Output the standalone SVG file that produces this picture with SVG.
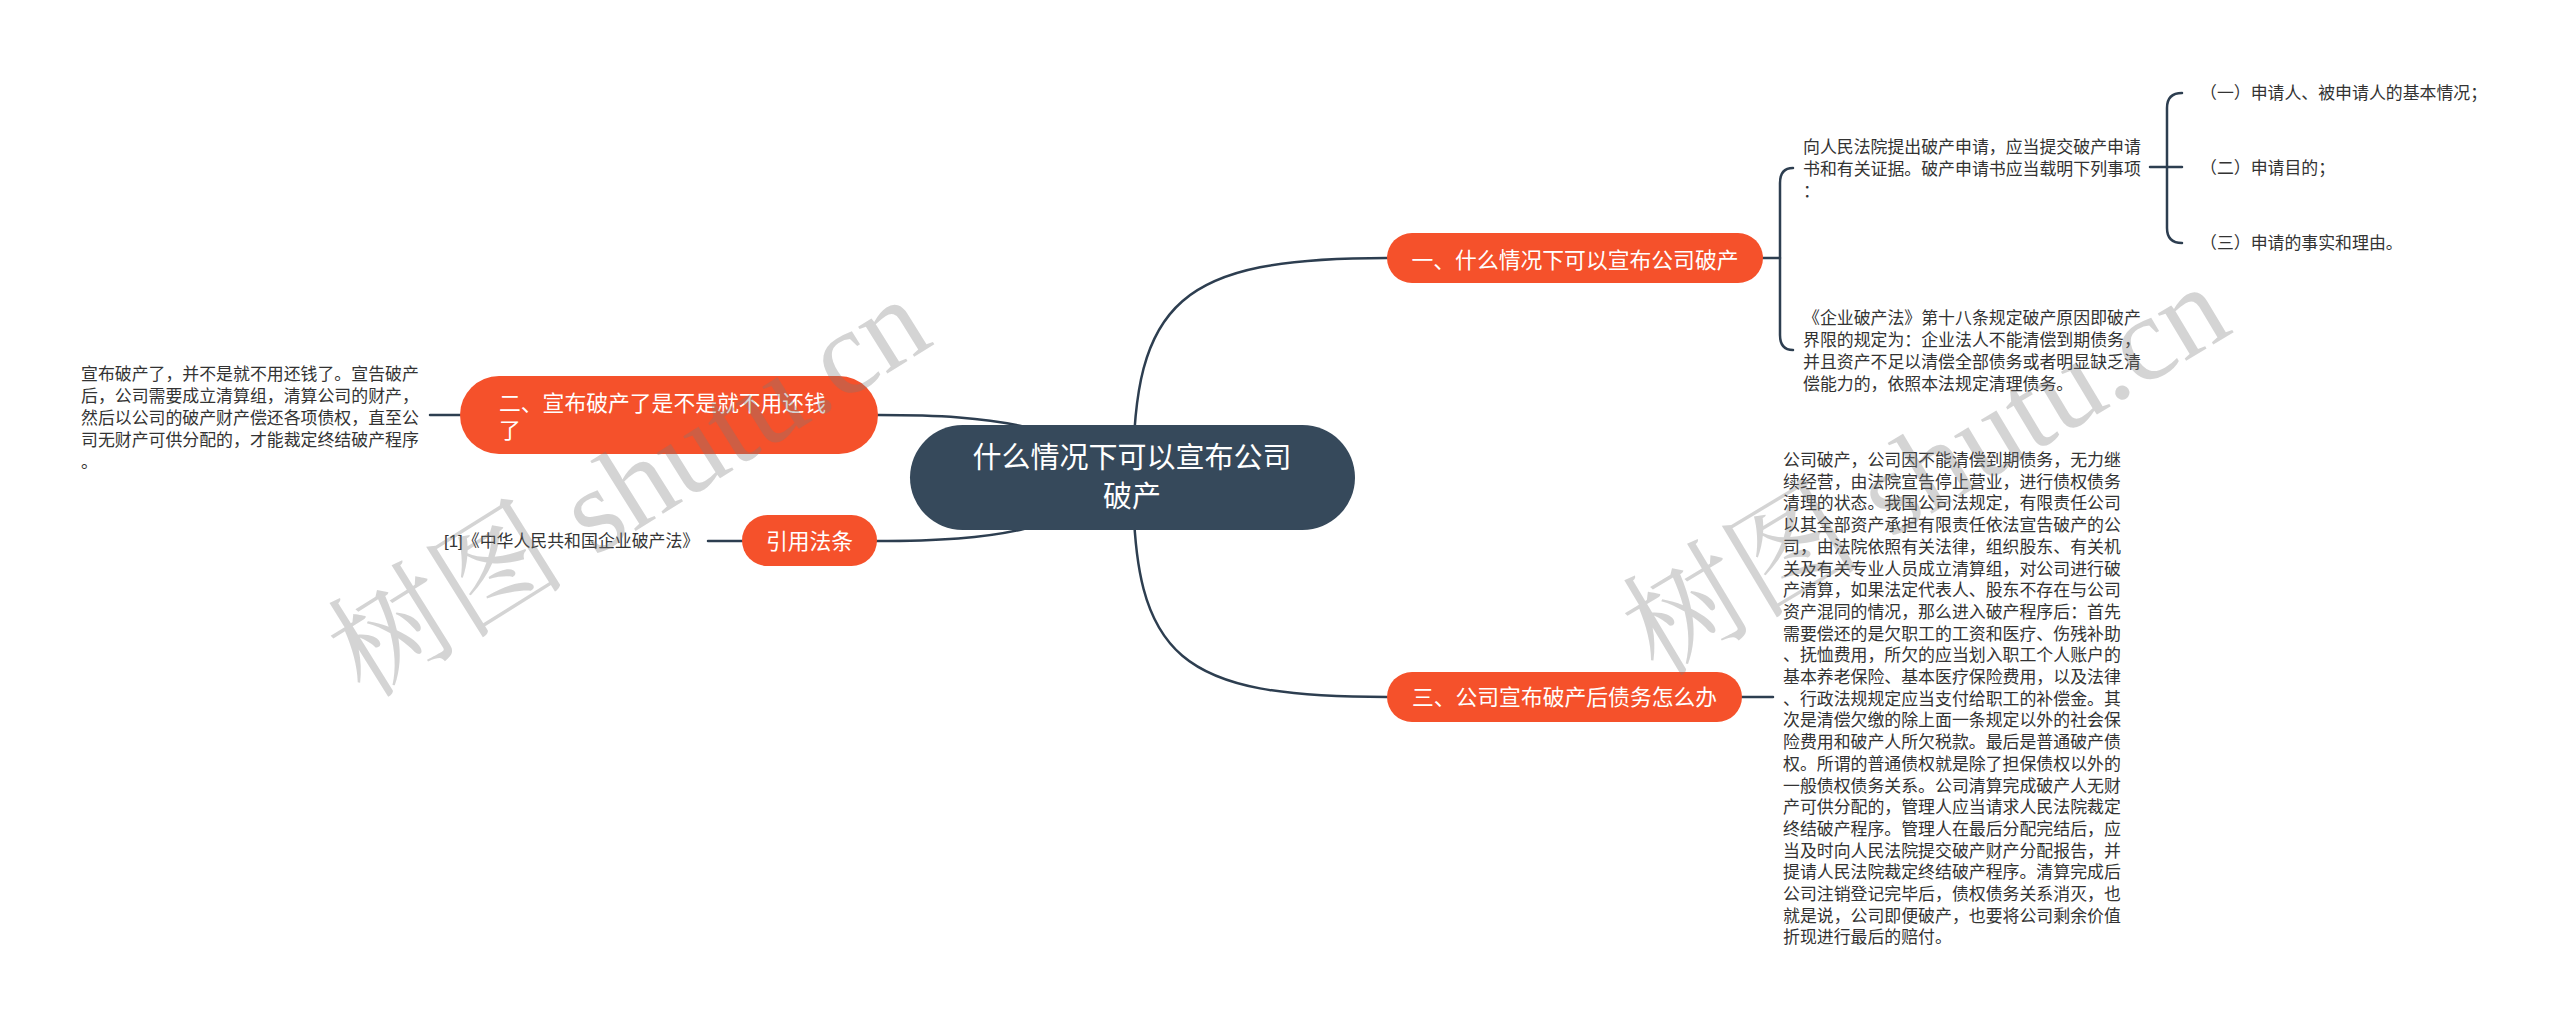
<svg xmlns="http://www.w3.org/2000/svg" width="2560" height="1029" viewBox="0 0 2560 1029">
<style>
.bg{fill:#ffffff}
.conn{fill:none;stroke:#2d3e50;stroke-width:2.5;stroke-linecap:round}
.root{fill:#36495b}
.branch{fill:#f5512b}
.ntext{font-family:"Liberation Sans","Noto Sans CJK SC",sans-serif;fill:#ffffff}
.rt{font-size:29px}
.bt{font-size:21.8px}
.leaf{font-family:"Liberation Sans","Noto Sans CJK SC",sans-serif;font-size:16.9px;fill:#333333}
.wm{font-family:"Liberation Serif","Noto Serif CJK SC","Noto Sans CJK SC",serif;font-size:120px;fill:#7a7a7a;fill-opacity:0.32}
</style>
<rect class="bg" x="0" y="0" width="2560" height="1029"/>
<g id="connectors">
<path class="conn" d="M1133,478 C1133,300 1180,258 1387,258"/>
<path class="conn" d="M1133,478 C1133,660 1180,697 1387,697"/>
<path class="conn" d="M878,415 C1000,415 1060,425 1133,478"/>
<path class="conn" d="M876,541 C1000,541 1060,530 1133,478"/>
<path class="conn" d="M1763,258 H1780"/>
<path class="conn" d="M1793,168 Q1780,168 1780,183 V335 Q1780,350 1793,350"/>
<path class="conn" d="M2150,167 H2182"/>
<path class="conn" d="M2182,93 Q2167,93 2167,108 V228 Q2167,243 2182,243"/>
<path class="conn" d="M1742,697 H1773"/>
<path class="conn" d="M430,415 H460"/>
<path class="conn" d="M708,541 H742"/>
</g>
<g id="root">
<rect class="root" x="910" y="425" width="445" height="105" rx="52.5"/>
<text class="ntext rt" x="1132" y="468" text-anchor="middle">什么情况下可以宣布公司</text>
<text class="ntext rt" x="1132" y="507" text-anchor="middle">破产</text>
</g>
<g id="branch1">
<rect class="branch" x="1387" y="233" width="376" height="50" rx="25"/>
<text class="ntext bt" x="1575" y="268" text-anchor="middle">一、什么情况下可以宣布公司破产</text>
</g>
<g id="branch2">
<rect class="branch" x="460" y="376" width="418" height="78" rx="39"/>
<text class="ntext bt" x="499" y="411">二、宣布破产了是不是就不用还钱</text>
<text class="ntext bt" x="499" y="438">了</text>
</g>
<g id="branch3">
<rect class="branch" x="1387" y="672" width="355" height="50" rx="25"/>
<text class="ntext bt" x="1564.5" y="705" text-anchor="middle">三、公司宣布破产后债务怎么办</text>
</g>
<g id="branch4">
<rect class="branch" x="742" y="515" width="135" height="51" rx="25.5"/>
<text class="ntext bt" x="809.5" y="549" text-anchor="middle">引用法条</text>
</g>
<g id="leaf-b1-a">
<text class="leaf" x="1803" y="153">向人民法院提出破产申请，应当提交破产申请</text>
<text class="leaf" x="1803" y="175">书和有关证据。破产申请书应当载明下列事项</text>
<text class="leaf" x="1803" y="197">：</text>
</g>
<g id="leaf-b1-b">
<text class="leaf" x="1803" y="324">《企业破产法》第十八条规定破产原因即破产</text>
<text class="leaf" x="1803" y="346">界限的规定为：企业法人不能清偿到期债务，</text>
<text class="leaf" x="1803" y="368">并且资产不足以清偿全部债务或者明显缺乏清</text>
<text class="leaf" x="1803" y="390">偿能力的，依照本法规定清理债务。</text>
</g>
<g id="leaf-a1"><text class="leaf" x="2200" y="99">（一）申请人、被申请人的基本情况；</text></g>
<g id="leaf-a2"><text class="leaf" x="2200" y="174">（二）申请目的；</text></g>
<g id="leaf-a3"><text class="leaf" x="2200" y="249">（三）申请的事实和理由。</text></g>
<g id="leaf-b2">
<text class="leaf" x="81" y="380">宣布破产了，并不是就不用还钱了。宣告破产</text>
<text class="leaf" x="81" y="402">后，公司需要成立清算组，清算公司的财产，</text>
<text class="leaf" x="81" y="424">然后以公司的破产财产偿还各项债权，直至公</text>
<text class="leaf" x="81" y="446">司无财产可供分配的，才能裁定终结破产程序</text>
<text class="leaf" x="81" y="468">。</text>
</g>
<g id="leaf-b4">
<text class="leaf" x="444" y="547">[1]《中华人民共和国企业破产法》</text>
</g>
<g id="leaf-b3">
<text class="leaf" x="1783" y="466">公司破产，公司因不能清偿到期债务，无力继</text>
<text class="leaf" x="1783" y="487.7">续经营，由法院宣告停止营业，进行债权债务</text>
<text class="leaf" x="1783" y="509.4">清理的状态。我国公司法规定，有限责任公司</text>
<text class="leaf" x="1783" y="531.1">以其全部资产承担有限责任依法宣告破产的公</text>
<text class="leaf" x="1783" y="552.8">司，由法院依照有关法律，组织股东、有关机</text>
<text class="leaf" x="1783" y="574.5">关及有关专业人员成立清算组，对公司进行破</text>
<text class="leaf" x="1783" y="596.2">产清算，如果法定代表人、股东不存在与公司</text>
<text class="leaf" x="1783" y="617.9">资产混同的情况，那么进入破产程序后：首先</text>
<text class="leaf" x="1783" y="639.6">需要偿还的是欠职工的工资和医疗、伤残补助</text>
<text class="leaf" x="1783" y="661.3">、抚恤费用，所欠的应当划入职工个人账户的</text>
<text class="leaf" x="1783" y="683">基本养老保险、基本医疗保险费用，以及法律</text>
<text class="leaf" x="1783" y="704.7">、行政法规规定应当支付给职工的补偿金。其</text>
<text class="leaf" x="1783" y="726.4">次是清偿欠缴的除上面一条规定以外的社会保</text>
<text class="leaf" x="1783" y="748.1">险费用和破产人所欠税款。最后是普通破产债</text>
<text class="leaf" x="1783" y="769.8">权。所谓的普通债权就是除了担保债权以外的</text>
<text class="leaf" x="1783" y="791.5">一般债权债务关系。公司清算完成破产人无财</text>
<text class="leaf" x="1783" y="813.2">产可供分配的，管理人应当请求人民法院裁定</text>
<text class="leaf" x="1783" y="834.9">终结破产程序。管理人在最后分配完结后，应</text>
<text class="leaf" x="1783" y="856.6">当及时向人民法院提交破产财产分配报告，并</text>
<text class="leaf" x="1783" y="878.3">提请人民法院裁定终结破产程序。清算完成后</text>
<text class="leaf" x="1783" y="900">公司注销登记完毕后，债权债务关系消灭，也</text>
<text class="leaf" x="1783" y="921.7">就是说，公司即便破产，也要将公司剩余价值</text>
<text class="leaf" x="1783" y="943.4">折现进行最后的赔付。</text>
</g>
<g id="watermarks">
<text class="wm" transform="translate(365,700) rotate(-32)">树图 shutu.cn</text>
<text class="wm" transform="translate(1658,678) rotate(-31)">树图 shutu.cn</text>
</g>
</svg>
